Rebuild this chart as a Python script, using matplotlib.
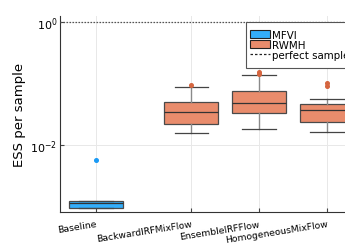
import matplotlib
matplotlib.use("Agg")
import matplotlib.pyplot as plt
from matplotlib.patches import Patch, Rectangle
from matplotlib.lines import Line2D

# ---- data ----
categories = ["Baseline", "BackwardIRFMixFlow", "EnsembleIRFFlow", "HomogeneousMixFlow"]
methods = ["MFVI", "RWMH", "RWMH", "RWMH"]
q1 = [0.00097, 0.0219, 0.0331, 0.0239]
med = [0.00113, 0.0344, 0.0476, 0.0371]
q3 = [0.00122, 0.0500, 0.0747, 0.0459]
whislo = [0.00097, 0.0157, 0.0180, 0.0161]
whishi = [0.00122, 0.0877, 0.1375, 0.0560]
fliers = [[0.00577], [0.0946], [0.152, 0.143], [0.1007, 0.092]]
perfect = 1.0
legend_labels = ["MFVI", "RWMH", "perfect samples"]

# ---- layout/style ----
positions = [0.533, 1.948, 2.948, 3.956]
colors = {"MFVI": "#33aefb", "RWMH": "#e98c6c"}
flier_colors = {"MFVI": "#1a9af5", "RWMH": "#d5653f"}
W, H = 345, 253

fig = plt.figure(figsize=(W / 100, H / 100), dpi=100)
ax = fig.add_axes([60 / W, 40 / H, 302 / W, 195.7 / H])

for i, cat in enumerate(categories):
    st = dict(med=med[i], q1=q1[i], q3=q3[i], whislo=whislo[i], whishi=whishi[i],
              fliers=fliers[i], label=cat)
    m = methods[i]
    ax.bxp([st], positions=[positions[i]], widths=0.8, patch_artist=True,
           showfliers=True,
           boxprops=dict(facecolor=colors[m], edgecolor="#4a4a4a", linewidth=0.9),
           medianprops=dict(color="#333333", linewidth=0.9),
           whiskerprops=dict(color="#8a8a8a", linewidth=1.0),
           capprops=dict(color="#444444", linewidth=0.9),
           capwidths=0.5,
           flierprops=dict(marker="o", markersize=2.6, markerfacecolor=flier_colors[m],
                           markeredgecolor=flier_colors[m], linestyle="none"))

ax.axhline(perfect, color="#555555", linestyle=(0, (1.2, 1.2)), linewidth=0.9, zorder=3)

ax.set_yscale("log")
ax.set_ylim(10 ** -3.085, 10 ** 0.093)
ax.set_xlim(0, 302 / 67.5)
ax.set_yticks([1e-2, 1e0])
ax.set_yticklabels([r"$10^{-2}$", r"$10^{0}$"], fontsize=8)
ax.yaxis.set_minor_locator(matplotlib.ticker.NullLocator())
ax.set_xticks(positions)
ax.set_xticklabels(categories, rotation=9, ha="right", rotation_mode="anchor", fontsize=6.7)
ax.tick_params(axis="x", direction="in", length=3, pad=5, color="#444444")
ax.tick_params(axis="y", direction="in", length=3, pad=2, color="#444444")
ax.set_ylabel("ESS per sample", fontsize=9.5, labelpad=3)
ax.grid(True, color="#e8e8e8", linewidth=0.7)
ax.set_axisbelow(True)
for s in ["top", "right"]:
    ax.spines[s].set_visible(False)
for s in ["left", "bottom"]:
    ax.spines[s].set_color("#333333")
    ax.spines[s].set_linewidth(0.8)

# legend frame (GR-style, generous vertical padding), running past the right edge
fig.patches.append(Rectangle((246 / W, 1 - 69 / H), 0.4, (69 - 23.3) / H,
                             transform=fig.transFigure, facecolor="white",
                             edgecolor="#555555", linewidth=0.8, zorder=5))
handles = [Patch(facecolor=colors["MFVI"], edgecolor="#222222", linewidth=0.8),
           Patch(facecolor=colors["RWMH"], edgecolor="#222222", linewidth=0.8),
           Line2D([], [], color="#222222", linestyle=(0, (2, 1.6)), linewidth=0.9)]
leg = fig.legend(handles, legend_labels, loc="upper left",
                 bbox_to_anchor=(249.7 / W, 1 - 30.5 / H), fontsize=7.4,
                 frameon=False, handlelength=1.95, handleheight=0.8,
                 handletextpad=0.2, labelspacing=0.02, borderpad=0, borderaxespad=0)
leg.set_zorder(6)

fig.savefig("out.png", dpi=100)
